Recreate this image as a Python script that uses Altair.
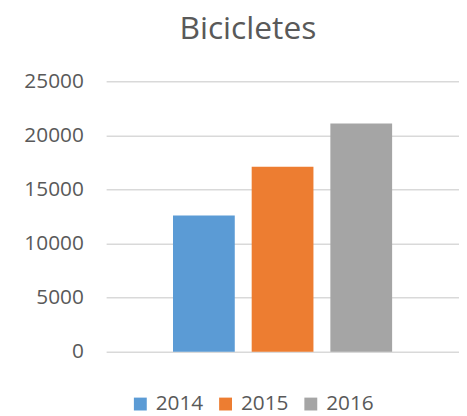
import altair as alt
import pandas as pd

years = ["2014", "2015", "2016"]
values = [12600, 17100, 21100]
colors = ["#5B9BD5", "#ED7D31", "#A5A5A5"]
y_ticks = [0, 5000, 10000, 15000, 20000, 25000]

df = pd.DataFrame({"year": years, "value": values})

FONT = "Open Sans"
GREY = "#595959"

chart = (
    alt.Chart(df)
    .mark_bar()
    .encode(
        x=alt.X(
            "year:N",
            axis=None,
            scale=alt.Scale(paddingInner=0.215, paddingOuter=0.85),
        ),
        y=alt.Y(
            "value:Q",
            scale=alt.Scale(domain=[0, 25000], nice=False),
            axis=alt.Axis(
                values=y_ticks,
                format="d",
                title=None,
                ticks=False,
                domain=False,
                labelPadding=23,
                labelFont=FONT,
                labelFontSize=21,
                labelColor=GREY,
                gridColor="#d9d9d9",
                gridWidth=1.5,
            ),
        ),
        color=alt.Color(
            "year:N",
            scale=alt.Scale(domain=years, range=colors),
            legend=alt.Legend(
                title=None,
                orient="none",
                direction="horizontal",
                legendX=24,
                legendY=315,
                symbolType="square",
                symbolSize=169,
                symbolStrokeWidth=0,
                symbolOpacity=1,
                labelOffset=5,
                labelFont=FONT,
                labelFontSize=21,
                labelColor=GREY,
                columnPadding=11,
                padding=0,
            ),
        ),
    )
    .properties(
        width=356,
        height=273,
        padding={"left": 99, "top": 72, "right": 0, "bottom": 64},
        autosize=alt.AutoSizeParams(type="none"),
        title=alt.TitleParams(
            "Bicicletes",
            font=FONT,
            fontSize=32,
            fontWeight="normal",
            color=GREY,
            anchor="middle",
            frame="group",
            dx=-35,
            offset=25,
        ),
    )
    .configure_view(stroke=None)
)

chart.save("out.html", embed_options={"renderer": "svg", "actions": False})
